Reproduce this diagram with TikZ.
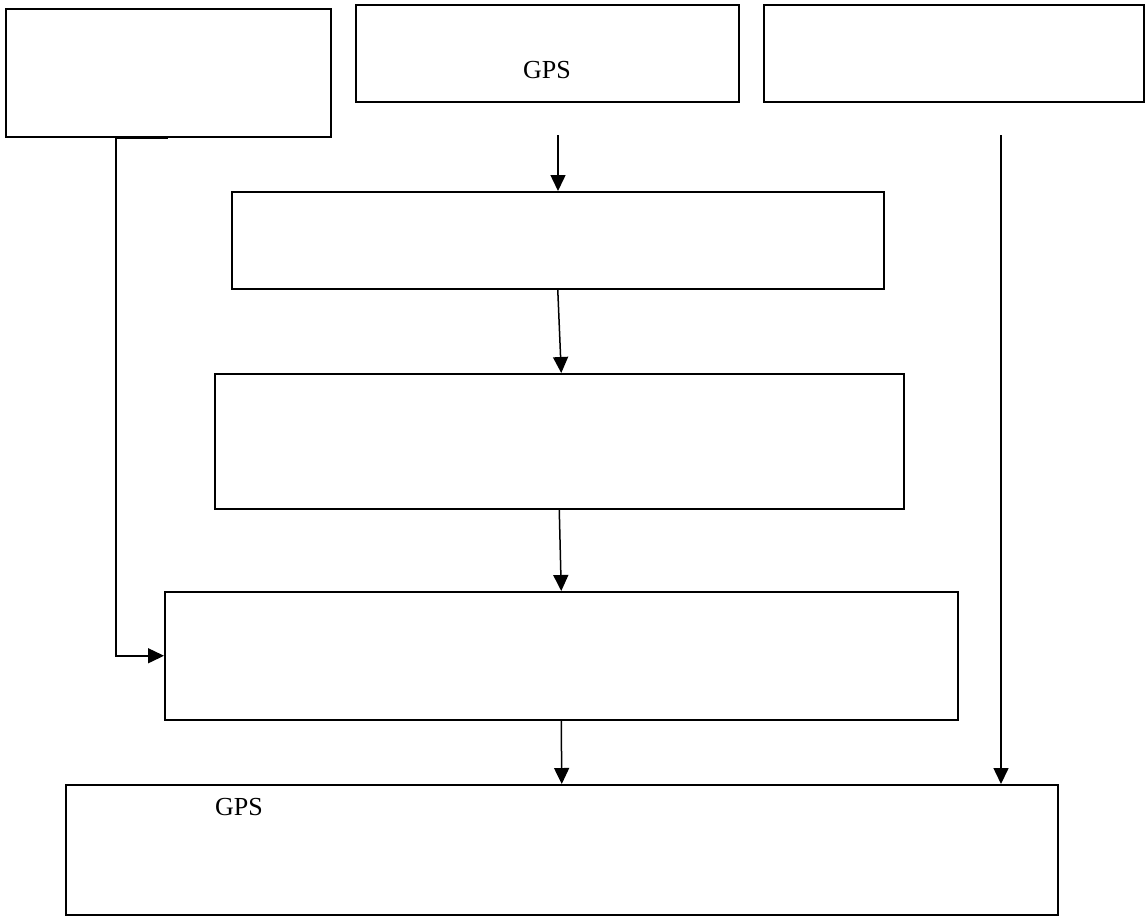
\documentclass[tikz,border=0pt]{standalone}
\usepackage{fontspec}
\setmainfont{Liberation Serif}
\usetikzlibrary{arrows.meta}
\begin{document}
\begin{tikzpicture}[x=1pt,y=-1pt,
  box/.style={draw,line width=1.5pt,rectangle,inner sep=0pt,anchor=north west,fill=white},
  arr/.style={line width=1.5pt,-{Triangle[length=16pt,width=15pt]}},
  lbl/.style={font=\fontsize{26}{30}\selectfont,inner sep=0pt}]
\useasboundingbox (0,0) rectangle (1147,919);
\node[box,minimum width=325pt,minimum height=128pt] (A) at (5,8) {};
\node[box,minimum width=383pt,minimum height=97pt] (B) at (355,4) {};
\node[box,minimum width=380pt,minimum height=97pt] (C) at (763,4) {};
\node[box,minimum width=652pt,minimum height=97pt] (D) at (231,191) {};
\node[box,minimum width=689pt,minimum height=135pt] (E) at (214,373) {};
\node[box,minimum width=793pt,minimum height=128pt] (F) at (164,591) {};
\node[box,minimum width=992pt,minimum height=130pt] (G) at (65,784) {};
\node[lbl] (tB) at (547,70) {GPS};
\node[lbl] (tG) at (239,807) {GPS};
\coordinate (la) at (116,137);
\coordinate (lb) at (168,137);
\coordinate (bt) at (558,135);
\coordinate (rt) at (1001,135);
\draw[line width=3pt] (la) -- (lb);
\draw[arr] (la) |- (F.west);
\draw[arr] (bt) -- (bt |- D.north);
\draw[arr] (D.south) -- ([xshift=2pt]E.north);
\draw[arr] (E.south) -- (F.north);
\draw[arr] (F.south) -- (G.north);
\draw[arr] (rt) -- (rt |- G.north);
\end{tikzpicture}
\end{document}
